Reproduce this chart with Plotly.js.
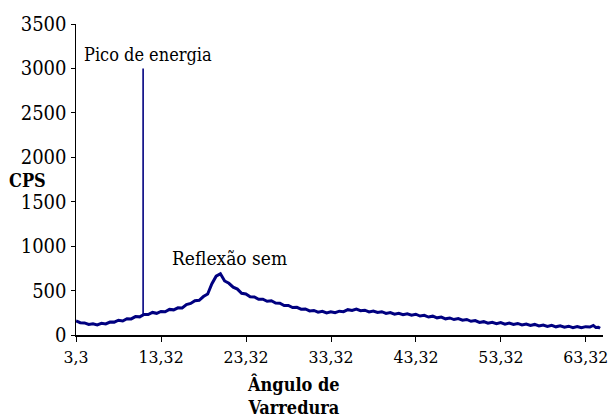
<!DOCTYPE html>
<html>
<head>
<meta charset="utf-8">
<script src="https://cdn.plot.ly/plotly-3.0.1.min.js"></script>
<style>
  html, body { margin: 0; padding: 0; background: #ffffff; }
  #chart { width: 610px; height: 417px; }
</style>
</head>
<body>
<div id="chart"></div>
<script>
// Scan angle (2θ, degrees) and counts per second of the diffractogram
const angles = [
  3.3, 3.8, 4.3, 4.8, 5.3, 5.8, 6.3, 6.8, 7.3, 7.8,
  8.3, 8.8, 9.3, 9.8, 10.3, 10.8, 11.3, 11.8, 12.3, 12.8,
  13.3, 13.8, 14.3, 14.8, 15.3, 15.8, 16.3, 16.8, 17.3, 17.8,
  18.3, 18.8, 19.3, 19.8, 20.3, 20.8, 21.3, 21.8, 22.3, 22.8,
  23.3, 23.8, 24.3, 24.8, 25.3, 25.8, 26.3, 26.8, 27.3, 27.8,
  28.3, 28.8, 29.3, 29.8, 30.3, 30.8, 31.3, 31.8, 32.3, 32.8,
  33.3, 33.8, 34.3, 34.8, 35.3, 35.8, 36.3, 36.8, 37.3, 37.8,
  38.3, 38.8, 39.3, 39.8, 40.3, 40.8, 41.3, 41.8, 42.3, 42.8,
  43.3, 43.8, 44.3, 44.8, 45.3, 45.8, 46.3, 46.8, 47.3, 47.8,
  48.3, 48.8, 49.3, 49.8, 50.3, 50.8, 51.3, 51.8, 52.3, 52.8,
  53.3, 53.8, 54.3, 54.8, 55.3, 55.8, 56.3, 56.8, 57.3, 57.8,
  58.3, 58.8, 59.3, 59.8, 60.3, 60.8, 61.3, 61.8, 62.3, 62.8,
  63.3, 63.8, 64.2, 64.5, 64.8, 65.0
];
const cps = [
  158, 138, 136, 119, 126, 114, 131, 124, 146, 145,
  166, 158, 184, 181, 207, 204, 231, 230, 254, 244,
  265, 262, 288, 283, 306, 305, 342, 355, 386, 391,
  433, 462, 578, 662, 690, 608, 582, 538, 517, 470,
  462, 430, 428, 402, 403, 379, 385, 360, 358, 331,
  333, 309, 311, 291, 293, 271, 276, 257, 266, 249,
  262, 251, 268, 263, 285, 277, 292, 273, 279, 259,
  270, 253, 262, 243, 252, 234, 245, 228, 239, 223,
  234, 213, 221, 202, 212, 193, 201, 182, 192, 174,
  185, 167, 175, 154, 162, 141, 150, 132, 143, 127,
  139, 122, 134, 118, 130, 113, 124, 107, 119, 102,
  113, 97, 108, 92, 103, 87, 99, 83, 96, 81,
  94, 90, 108, 84, 86, 76
];

// Energy peak marker
const peakAngle = [11.2, 11.2];
const peakCps = [222, 3000];

// Axis ticks
const xTickVals = [3.3, 13.32, 23.32, 33.32, 43.32, 53.32, 63.32];
const xTickText = ["3,3", "13,32", "23,32", "33,32", "43,32", "53,32", "63,32"];
const yTickVals = [0, 500, 1000, 1500, 2000, 2500, 3000, 3500];

const navy = "#000080";
const serif = "DejaVu Serif Condensed, DejaVu Serif";

const traces = [
  {
    x: angles, y: cps, type: "scatter", mode: "lines",
    line: { color: navy, width: 3 }, hoverinfo: "skip", showlegend: false
  },
  {
    x: peakAngle, y: peakCps, type: "scatter", mode: "lines",
    line: { color: navy, width: 1.6 }, hoverinfo: "skip", showlegend: false
  }
];

const layout = {
  width: 610, height: 417,
  margin: { l: 76, r: 7, t: 24, b: 82 },
  paper_bgcolor: "#ffffff", plot_bgcolor: "#ffffff",
  font: { family: serif, size: 18, color: "#000000" },
  showlegend: false,
  xaxis: {
    range: [3.3, 65.34],
    tickmode: "array", tickvals: xTickVals, ticktext: xTickText,
    ticks: "outside", ticklen: 5, tickcolor: "#000", tickwidth: 1,
    showline: true, linecolor: "#000", linewidth: 1.5,
    showgrid: false, zeroline: false, ticklabeloverflow: "allow",
    tickfont: { family: serif, size: 17.5, color: "#000" }
  },
  yaxis: {
    range: [0, 3500],
    tickmode: "array", tickvals: yTickVals,
    ticks: "outside", ticklen: 4, tickcolor: "#000", tickwidth: 1,
    showline: true, linecolor: "#000", linewidth: 1.5,
    showgrid: false, zeroline: false,
    tickfont: { family: serif, size: 20, color: "#000" }
  },
  annotations: [
    { text: "<b>CPS</b>", xref: "paper", yref: "y", x: -0.13, y: 1740,
      xanchor: "left", yanchor: "middle", showarrow: false,
      font: { family: serif, size: 18, color: "#000" } },
    { text: "Pico de energia", xref: "x", yref: "y", x: 4.05, y: 3160,
      xanchor: "left", yanchor: "middle", showarrow: false,
      font: { family: serif, size: 18, color: "#000" } },
    { text: "Reflexão sem", xref: "x", yref: "y", x: 14.4, y: 869,
      xanchor: "left", yanchor: "middle", showarrow: false,
      font: { family: serif, size: 19, color: "#000" } },
    { text: "<b>Ângulo de<br>Varredura</b>", xref: "paper", yref: "paper",
      x: 0.413, y: -0.196, xanchor: "center", yanchor: "middle", showarrow: false,
      font: { family: serif, size: 18, color: "#000" } }
  ]
};

Plotly.newPlot("chart", traces, layout, { staticPlot: true, displayModeBar: false });
</script>
</body>
</html>
